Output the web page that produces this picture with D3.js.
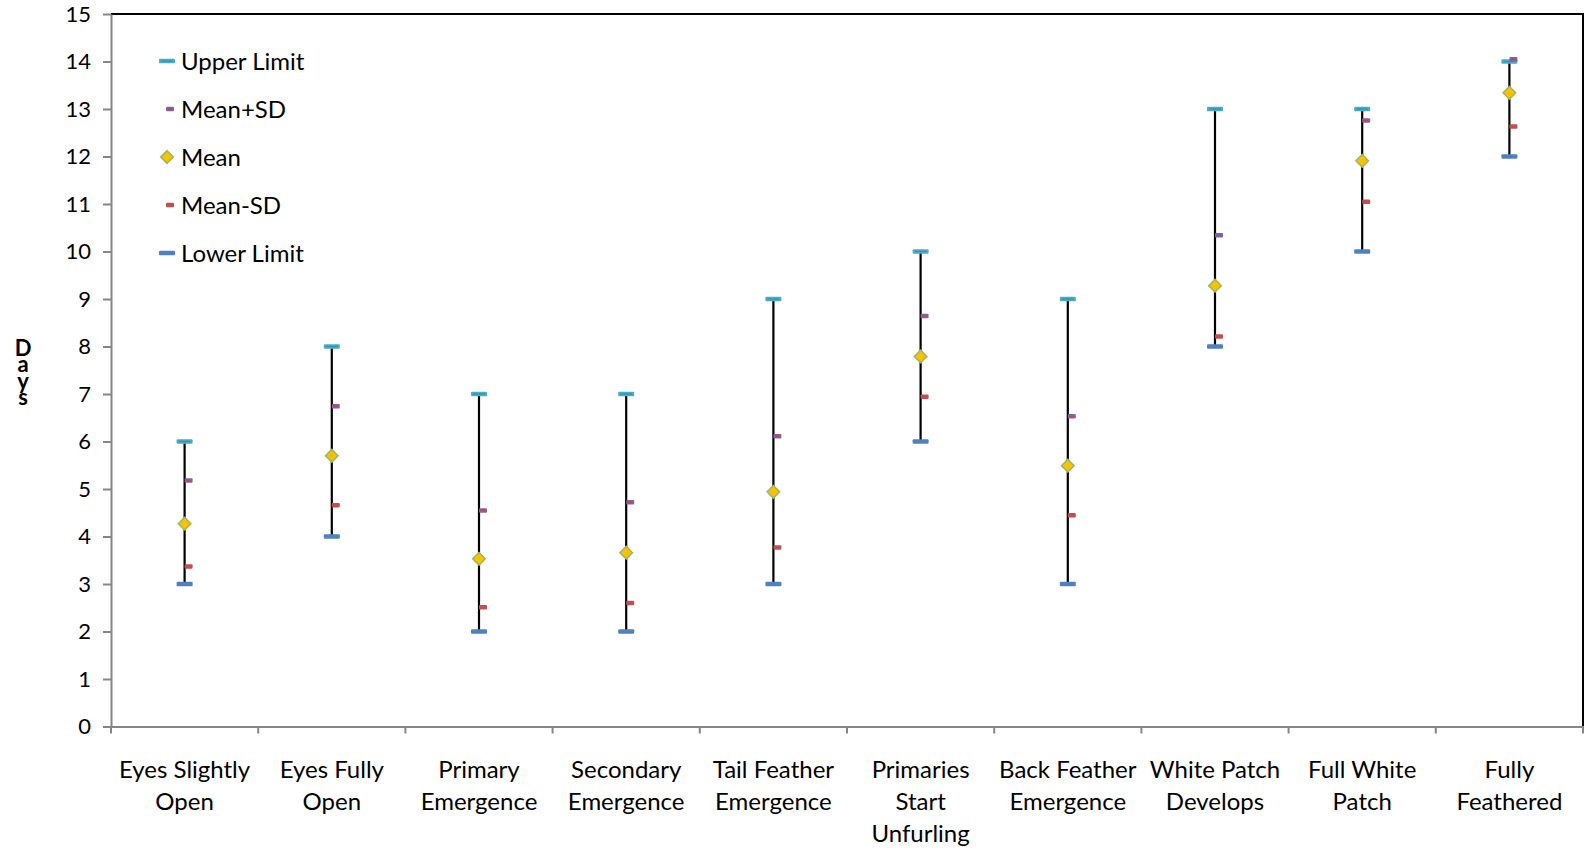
<!DOCTYPE html>
<html><head><meta charset="utf-8">
<script src="https://cdn.jsdelivr.net/npm/d3@7"></script>
<style>
html,body{margin:0;padding:0;background:#fff;}
svg{display:block;font-family:Lato, "Open Sans", sans-serif;}
</style></head>
<body><svg id="chart" width="1585" height="850"></svg>
<script>
const categories = [
  ["Eyes Slightly","Open"],
  ["Eyes Fully","Open"],
  ["Primary","Emergence"],
  ["Secondary","Emergence"],
  ["Tail Feather","Emergence"],
  ["Primaries","Start","Unfurling"],
  ["Back Feather","Emergence"],
  ["White Patch","Develops"],
  ["Full White","Patch"],
  ["Fully","Feathered"]
];
const upperLimit = [6, 8, 7, 7, 9, 10, 9, 13, 13, 14];
const meanPlusSD = [5.18, 6.74, 4.55, 4.72, 6.11, 8.64, 6.53, 10.34, 12.76, 14.05];
const meanVals   = [4.27, 5.70, 3.53, 3.66, 4.94, 7.79, 5.49, 9.28, 11.91, 13.34];
const meanMinusSD= [3.37, 4.66, 2.51, 2.60, 3.77, 6.94, 4.45, 8.21, 11.05, 12.63];
const lowerLimit = [3, 4, 2, 2, 3, 6, 3, 8, 10, 12];
const yTicks = d3.range(0, 16, 1);
const legendLabels = ["Upper Limit","Mean+SD","Mean","Mean-SD","Lower Limit"];
const yTitle = "Days";

const colors = {upper:"#4bacc6", plus:"#8064a2", mean:"#ffc000", meanStroke:"#9bbb59", minus:"#c0504d", lower:"#4f81bd"};

const svg = d3.select("#chart");
const L = 111, R = 1583, T = 14, B = 726.5;
const x = d3.scaleBand().domain(d3.range(categories.length)).range([L, R]).paddingInner(0).paddingOuter(0);
const y = d3.scaleLinear().domain([0, 15]).range([B, T]);
const cx = i => x(i) + x.bandwidth()/2;

// plot frame (top & right black)
svg.append("path").attr("d", `M${L},${T}H${R}V${B}`).attr("fill","none").attr("stroke","#000").attr("stroke-width",2);

// y axis
const yAxis = svg.append("g").attr("transform",`translate(${L},0)`)
  .call(d3.axisLeft(y).tickValues(yTicks).tickSize(8).tickSizeOuter(0).tickPadding(12).tickFormat(d3.format("d")));
yAxis.select(".domain").attr("stroke","#868686").attr("stroke-width",2);
yAxis.selectAll(".tick line").attr("stroke","#868686").attr("stroke-width",2);
yAxis.selectAll(".tick text").attr("font-size",22).attr("fill","#000").attr("font-family","Lato, sans-serif");

// x axis
const xAxis = svg.append("g").attr("transform",`translate(0,${B})`)
  .call(d3.axisBottom(x).tickSize(0).tickFormat(""));
xAxis.select(".domain").attr("stroke","#868686").attr("stroke-width",2);
const bounds = d3.range(categories.length + 1).map(i => i < categories.length ? x(i) : R);
xAxis.selectAll(".bticks").data(bounds).enter().append("line")
  .attr("x1", d=>d).attr("x2", d=>d).attr("y1",0).attr("y2",7)
  .attr("stroke","#868686").attr("stroke-width",2);

// x labels
categories.forEach((lines, i) => {
  const t = svg.append("text").attr("text-anchor","middle").attr("font-size",24).attr("fill","#000");
  lines.forEach((ln, k) => {
    t.append("tspan").attr("x", cx(i)).attr("y", 778 + k*32).text(ln);
  });
});

// y axis label stacked vertically (single text)
svg.append("text")
  .attr("x", 23).attr("y", 334)
  .attr("font-size", 22).attr("font-weight","bold").attr("fill","#000")
  .attr("textLength", 76).attr("lengthAdjust","spacing")
  .style("writing-mode","vertical-rl").style("text-orientation","upright")
  .text(yTitle);

// error bar lines
const idx = d3.range(categories.length);
svg.append("g").selectAll("line").data(idx).enter().append("line")
  .attr("x1", cx).attr("x2", cx)
  .attr("y1", i => y(lowerLimit[i])).attr("y2", i => y(upperLimit[i]))
  .attr("stroke","#000").attr("stroke-width",2.2);

// markers
function dash(g, vals, color, w, h, off, inner){
  const s = g.selectAll(null).data(idx).enter();
  s.append("rect")
    .attr("x", i => cx(i) + off - w/2).attr("y", i => y(vals[i]) - h/2)
    .attr("width", w).attr("height", h).attr("rx",1)
    .attr("fill", color);
  if (inner) {
    s.append("rect")
      .attr("x", i => cx(i) + off - w/2 + 2).attr("y", i => y(vals[i]) - 0.6)
      .attr("width", w - 4).attr("height", 1.2)
      .attr("fill", inner);
  }
}
const mg = svg.append("g");
dash(mg, lowerLimit, colors.lower, 16, 4.5, 0);
dash(mg, upperLimit, colors.upper, 16, 4.5, 0, "#2c96b4");
dash(mg, meanMinusSD, colors.minus, 8, 4.5, 4);
dash(mg, meanPlusSD, colors.plus, 8, 4.5, 4, "#d03c3c");

mg.selectAll(".mean").data(idx).enter().append("path")
  .attr("d", d3.symbol().type(d3.symbolSquare).size(78))
  .attr("transform", i => `translate(${cx(i)},${y(meanVals[i])}) rotate(45)`)
  .attr("fill", colors.mean).attr("stroke", colors.meanStroke).attr("stroke-width",1.6);

// legend
const lg = svg.append("g");
const legY = [61, 109, 157, 205, 253];
legendLabels.forEach((lab, k) => {
  const yy = legY[k];
  if (k === 0 || k === 4) {
    lg.append("rect").attr("x",159).attr("y",yy-2.25).attr("width",16).attr("height",4.5).attr("rx",1)
      .attr("fill", k===0?colors.upper:colors.lower);
    if (k===0) lg.append("rect").attr("x",161).attr("y",yy-0.6).attr("width",12).attr("height",1.2).attr("fill","#2c96b4");
  } else if (k === 2) {
    lg.append("path").attr("d", d3.symbol().type(d3.symbolSquare).size(78))
      .attr("transform",`translate(167,${yy}) rotate(45)`)
      .attr("fill",colors.mean).attr("stroke",colors.meanStroke).attr("stroke-width",1.6);
  } else {
    lg.append("rect").attr("x",166).attr("y",yy-2.25).attr("width",8).attr("height",4.5).attr("rx",1)
      .attr("fill", k===1?colors.plus:colors.minus);
    if (k===1) lg.append("rect").attr("x",168).attr("y",yy-0.6).attr("width",4).attr("height",1.2).attr("fill","#d03c3c");
  }
  lg.append("text").attr("x",181).attr("y",yy+8.5).attr("font-size",24).attr("fill","#000").text(lab);
});
</script>
</body></html>
